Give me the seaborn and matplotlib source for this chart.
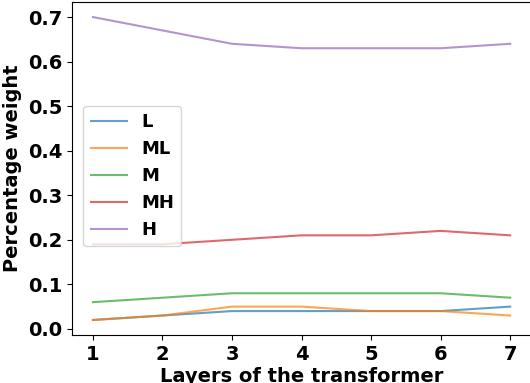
import numpy as np
import pandas as pd
import matplotlib
matplotlib.use("Agg")
import matplotlib.pyplot as plt
import seaborn as sns

# layers of the transformer
layers = [1, 2, 3, 4, 5, 6, 7]

# percentage weight per group
weight_L = [0.02, 0.03, 0.04, 0.04, 0.04, 0.04, 0.05]
weight_ML = [0.02, 0.03, 0.05, 0.05, 0.04, 0.04, 0.03]
weight_M = [0.06, 0.07, 0.08, 0.08, 0.08, 0.08, 0.07]
weight_MH = [0.19, 0.19, 0.20, 0.21, 0.21, 0.22, 0.21]
weight_H = [0.70, 0.67, 0.64, 0.63, 0.63, 0.63, 0.64]

groups = ["L", "ML", "M", "MH", "H"]
series = [weight_L, weight_ML, weight_M, weight_MH, weight_H]

df = pd.DataFrame({
    "layer": layers * len(groups),
    "weight": np.concatenate(series),
    "group": np.repeat(groups, len(layers)),
})

fig = plt.figure(figsize=(5.3, 3.83), dpi=100)
ax = fig.add_axes([0.136, 0.125, 0.866, 0.87])

sns.lineplot(data=df, x="layer", y="weight", hue="group", hue_order=groups,
             palette="tab10", alpha=0.7, linewidth=1.5, ax=ax)

ax.set_xticks(layers)
ax.set_xlabel("Layers of the transformer", fontsize=14, fontweight="bold", labelpad=2)
ax.set_ylabel("Percentage weight", fontsize=14, fontweight="bold")
for lab in ax.get_xticklabels() + ax.get_yticklabels():
    lab.set_fontsize(14)
    lab.set_fontweight("bold")

leg = ax.legend(loc="upper left", bbox_to_anchor=(0.005, 0.715),
                prop={"size": 13, "weight": "bold"})

fig.savefig("out.png", dpi=100)
